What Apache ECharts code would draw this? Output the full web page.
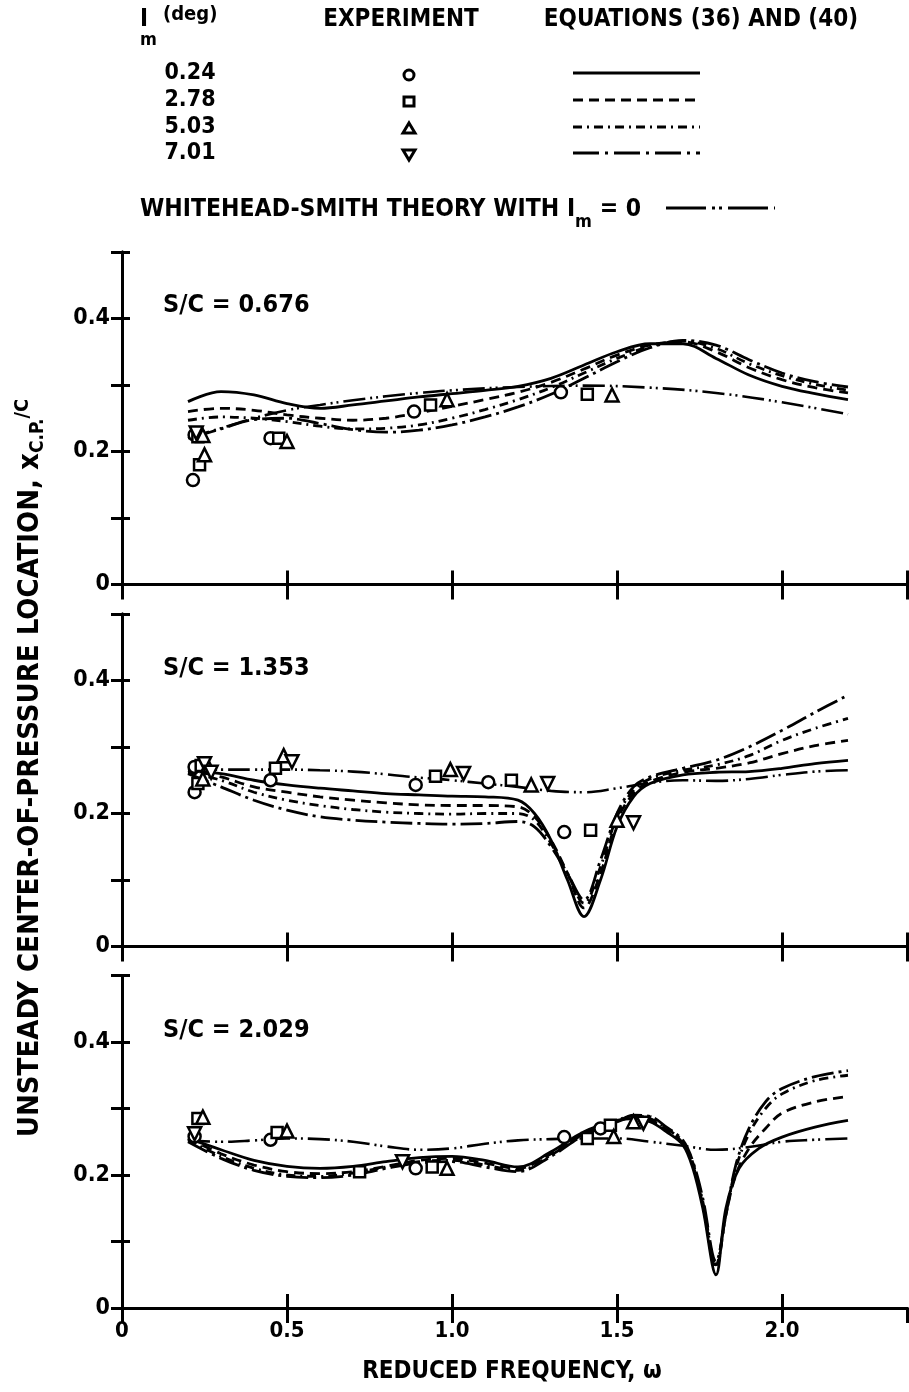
<!DOCTYPE html>
<html>
<head>
<meta charset="utf-8">
<script src="https://cdn.jsdelivr.net/npm/echarts@6/dist/echarts.min.js"></script>
<style>
  html, body { margin: 0; padding: 0; background: #fff; }
  #chart { width: 909px; height: 1392px; }
</style>
</head>
<body>
<div id="chart"></div>
<script>
// ---- data: [reduced frequency, x_cp/c] ----
// panel 1, S/C = 0.676
const p1Eq024 = [[0.2,0.275],[0.3,0.29],[0.4,0.285],[0.5,0.272],[0.6,0.265],[0.7,0.27],[0.8,0.276],[0.9,0.282],[1.0,0.287],[1.1,0.292],[1.2,0.298],[1.3,0.31],[1.4,0.33],[1.5,0.35],[1.6,0.362],[1.7,0.362],[1.8,0.34],[1.9,0.315],[2.0,0.298],[2.1,0.287],[2.2,0.278]]
const p1Eq278 = [[0.2,0.26],[0.3,0.265],[0.4,0.262],[0.5,0.255],[0.6,0.25],[0.7,0.247],[0.8,0.25],[0.9,0.258],[1.0,0.268],[1.1,0.278],[1.2,0.289],[1.3,0.304],[1.4,0.324],[1.5,0.345],[1.6,0.36],[1.7,0.365],[1.8,0.35],[1.9,0.326],[2.0,0.308],[2.1,0.296],[2.2,0.288]]
const p1Eq503 = [[0.2,0.247],[0.3,0.252],[0.4,0.25],[0.5,0.245],[0.6,0.238],[0.7,0.234],[0.8,0.235],[0.9,0.24],[1.0,0.25],[1.1,0.263],[1.2,0.278],[1.3,0.296],[1.4,0.318],[1.5,0.34],[1.6,0.358],[1.7,0.366],[1.8,0.355],[1.9,0.332],[2.0,0.314],[2.1,0.301],[2.2,0.292]]
const p1Eq701 = [[0.22,0.222],[0.3,0.234],[0.4,0.248],[0.5,0.25],[0.6,0.242],[0.7,0.233],[0.8,0.229],[0.9,0.232],[1.0,0.24],[1.1,0.252],[1.2,0.267],[1.3,0.286],[1.4,0.31],[1.5,0.335],[1.6,0.356],[1.7,0.367],[1.8,0.36],[1.9,0.338],[2.0,0.318],[2.1,0.305],[2.2,0.297]]
const p1Ws = [[0.2,0.22],[0.3,0.235],[0.4,0.25],[0.5,0.262],[0.6,0.27],[0.7,0.277],[0.8,0.283],[0.9,0.288],[1.0,0.292],[1.2,0.297],[1.4,0.299],[1.6,0.296],[1.8,0.288],[2.0,0.274],[2.2,0.256]]
const p1Circle = [[0.215,0.157],[0.22,0.225],[0.45,0.22],[0.885,0.26],[1.33,0.289]]
const p1Square = [[0.235,0.18],[0.23,0.222],[0.475,0.22],[0.935,0.27],[1.41,0.286]]
const p1Tri = [[0.25,0.195],[0.245,0.224],[0.5,0.215],[0.985,0.278],[1.485,0.285]]
const p1Inv = [[0.225,0.228]]

// panel 2, S/C = 1.353
const p2Eq024 = [[0.2,0.265],[0.3,0.26],[0.4,0.25],[0.5,0.243],[0.6,0.238],[0.7,0.234],[0.8,0.23],[0.9,0.228],[1.0,0.226],[1.1,0.225],[1.2,0.22],[1.25,0.2],[1.3,0.16],[1.35,0.1],[1.4,0.045],[1.45,0.1],[1.5,0.18],[1.55,0.225],[1.6,0.245],[1.7,0.258],[1.8,0.262],[1.9,0.263],[2.0,0.268],[2.1,0.275],[2.2,0.28]]
const p2Eq278 = [[0.2,0.265],[0.3,0.255],[0.4,0.24],[0.5,0.232],[0.6,0.225],[0.7,0.22],[0.8,0.216],[0.9,0.213],[1.0,0.212],[1.1,0.212],[1.2,0.21],[1.25,0.195],[1.3,0.16],[1.35,0.11],[1.4,0.058],[1.45,0.11],[1.5,0.19],[1.55,0.23],[1.6,0.248],[1.7,0.262],[1.8,0.268],[1.9,0.276],[2.0,0.29],[2.1,0.302],[2.2,0.31]]
const p2Eq503 = [[0.2,0.262],[0.3,0.25],[0.4,0.232],[0.5,0.22],[0.6,0.212],[0.7,0.206],[0.8,0.202],[0.9,0.2],[1.0,0.199],[1.1,0.2],[1.2,0.2],[1.25,0.19],[1.3,0.155],[1.35,0.11],[1.4,0.065],[1.45,0.12],[1.5,0.195],[1.55,0.235],[1.6,0.252],[1.7,0.265],[1.8,0.273],[1.9,0.287],[2.0,0.31],[2.1,0.328],[2.2,0.343]]
const p2Eq701 = [[0.2,0.26],[0.3,0.24],[0.4,0.22],[0.5,0.205],[0.6,0.195],[0.7,0.19],[0.8,0.187],[0.9,0.185],[1.0,0.184],[1.1,0.185],[1.2,0.188],[1.25,0.18],[1.3,0.15],[1.35,0.11],[1.4,0.07],[1.45,0.13],[1.5,0.2],[1.55,0.24],[1.6,0.255],[1.7,0.268],[1.8,0.28],[1.9,0.3],[2.0,0.325],[2.1,0.352],[2.2,0.378]]
const p2Ws = [[0.2,0.268],[0.3,0.266],[0.4,0.266],[0.5,0.266],[0.6,0.265],[0.7,0.263],[0.8,0.259],[0.9,0.254],[1.0,0.25],[1.1,0.245],[1.2,0.24],[1.3,0.234],[1.4,0.232],[1.5,0.238],[1.6,0.246],[1.7,0.25],[1.8,0.249],[1.9,0.252],[2.0,0.258],[2.1,0.263],[2.2,0.265]]
const p2Circle = [[0.22,0.27],[0.22,0.232],[0.45,0.25],[0.89,0.243],[1.11,0.247],[1.34,0.172]]
const p2Square = [[0.24,0.272],[0.23,0.245],[0.465,0.268],[0.95,0.256],[1.18,0.25],[1.42,0.175]]
const p2Tri = [[0.26,0.272],[0.245,0.252],[0.49,0.287],[0.995,0.266],[1.24,0.243],[1.5,0.19]]
const p2Inv = [[0.25,0.275],[0.27,0.262],[0.515,0.278],[1.035,0.26],[1.29,0.245],[1.55,0.186]]

// panel 3, S/C = 2.029
const p3Eq024 = [[0.2,0.255],[0.3,0.238],[0.4,0.222],[0.5,0.213],[0.6,0.21],[0.7,0.213],[0.8,0.22],[0.9,0.226],[1.0,0.228],[1.1,0.222],[1.2,0.212],[1.3,0.235],[1.4,0.265],[1.5,0.282],[1.55,0.285],[1.6,0.28],[1.65,0.265],[1.7,0.245],[1.73,0.21],[1.76,0.15],[1.8,0.05],[1.83,0.15],[1.87,0.21],[1.93,0.24],[2.0,0.257],[2.1,0.272],[2.2,0.282]]
const p3Eq278 = [[0.2,0.255],[0.3,0.232],[0.4,0.215],[0.5,0.205],[0.6,0.202],[0.7,0.205],[0.8,0.213],[0.9,0.222],[1.0,0.225],[1.1,0.218],[1.2,0.21],[1.3,0.232],[1.4,0.262],[1.5,0.28],[1.55,0.287],[1.6,0.282],[1.65,0.268],[1.7,0.248],[1.73,0.215],[1.76,0.155],[1.8,0.06],[1.83,0.14],[1.86,0.2],[1.9,0.24],[1.95,0.27],[2.0,0.293],[2.1,0.31],[2.2,0.318]]
const p3Eq503 = [[0.2,0.253],[0.3,0.228],[0.4,0.21],[0.5,0.2],[0.6,0.198],[0.7,0.203],[0.8,0.212],[0.9,0.22],[1.0,0.222],[1.1,0.215],[1.2,0.207],[1.3,0.23],[1.4,0.262],[1.5,0.282],[1.55,0.289],[1.6,0.285],[1.65,0.27],[1.7,0.25],[1.73,0.218],[1.76,0.16],[1.8,0.065],[1.83,0.14],[1.86,0.21],[1.9,0.262],[1.95,0.3],[2.0,0.322],[2.1,0.342],[2.2,0.35]]
const p3Eq701 = [[0.2,0.25],[0.3,0.225],[0.4,0.207],[0.5,0.198],[0.6,0.196],[0.7,0.2],[0.8,0.21],[0.9,0.218],[1.0,0.22],[1.1,0.212],[1.2,0.205],[1.3,0.228],[1.4,0.26],[1.5,0.28],[1.55,0.29],[1.6,0.288],[1.65,0.272],[1.7,0.252],[1.73,0.22],[1.76,0.165],[1.8,0.07],[1.83,0.14],[1.86,0.215],[1.9,0.27],[1.95,0.31],[2.0,0.33],[2.1,0.348],[2.2,0.357]]
const p3Ws = [[0.2,0.252],[0.3,0.25],[0.4,0.252],[0.5,0.255],[0.6,0.254],[0.7,0.25],[0.8,0.243],[0.9,0.238],[1.0,0.24],[1.1,0.247],[1.2,0.252],[1.3,0.254],[1.4,0.255],[1.5,0.255],[1.6,0.25],[1.7,0.244],[1.8,0.238],[1.9,0.242],[2.0,0.25],[2.1,0.253],[2.2,0.255]]
const p3Circle = [[0.22,0.258],[0.45,0.253],[0.89,0.21],[1.34,0.257],[1.45,0.27]]
const p3Square = [[0.23,0.285],[0.47,0.264],[0.72,0.205],[0.94,0.212],[1.41,0.255],[1.48,0.275]]
const p3Tri = [[0.245,0.287],[0.5,0.266],[0.985,0.21],[1.49,0.258],[1.55,0.28]]
const p3Inv = [[0.22,0.262],[0.85,0.22],[1.58,0.278]]

const panelLabels = ['S/C = 0.676', 'S/C = 1.353', 'S/C = 2.029']
const incidences = ['0.24', '2.78', '5.03', '7.01']
const xTicks = [0, 0.5, 1.0, 1.5, 2.0]
const yTicks = [0, 0.2, 0.4]

const panels = [
  { eq: [p1Eq024, p1Eq278, p1Eq503, p1Eq701], ws: p1Ws, pts: [p1Circle, p1Square, p1Tri, p1Inv] },
  { eq: [p2Eq024, p2Eq278, p2Eq503, p2Eq701], ws: p2Ws, pts: [p2Circle, p2Square, p2Tri, p2Inv] },
  { eq: [p3Eq024, p3Eq278, p3Eq503, p3Eq701], ws: p3Ws, pts: [p3Circle, p3Square, p3Tri, p3Inv] }
]

// ---- styling ----
const FAMILY = "'Liberation Sans Narrow', 'DejaVu Sans Condensed', 'Liberation Sans', sans-serif"
const dashes = ['solid', [10, 6], [9, 5, 2, 5], [22, 5, 3, 5]]
const wsDash = [22, 5, 2, 4, 2, 5]
const symbols = ['circle', 'rect', 'triangle', 'triangle']
const symRot = [0, 0, 0, 180]
const symSize = [12, 11, 13, 13]

const LEFT = 122
const XMAX = 2.38
const WIDTH = XMAX * 330
const TOPS = [252, 614, 975.5]
const HEIGHT = 332.5

const near = (v, list) => list.find(t => Math.abs(v - t) < 1e-6)

const grid = []
const xAxis = []
const yAxis = []
const series = []

TOPS.forEach((top, i) => {
  grid.push({ left: LEFT, top: top, width: WIDTH, height: HEIGHT, containLabel: false, outerBoundsMode: 'none' })
  const line = { lineStyle: { color: '#000', width: 3 } }
  xAxis.push({
    gridIndex: i, type: 'value', min: 0, max: XMAX, interval: 0.5, position: 'bottom',
    axisLine: line, splitLine: { show: false },
    axisTick: { inside: true, length: 14, lineStyle: { color: '#000', width: 3 } },
    axisLabel: {
      show: i === 2, showMaxLabel: false, margin: 12, color: '#000', fontSize: 22, fontWeight: 'bold', fontFamily: FAMILY,
      formatter: v => { const t = near(v, xTicks); return t === undefined ? '' : (t === 0 ? '0' : t.toFixed(1)) }
    }
  })
  xAxis.push({
    gridIndex: i, type: 'value', min: 0, max: XMAX, interval: 0.5, position: 'top',
    axisLine: line, splitLine: { show: false },
    axisTick: { inside: true, length: 15, lineStyle: { color: '#000', width: 3 } },
    axisLabel: { show: false }
  })
  yAxis.push({
    gridIndex: i, type: 'value', min: 0, max: 0.5, interval: 0.1, position: 'left',
    axisLine: line, splitLine: { show: false },
    axisTick: { inside: true, length: 8, lineStyle: { color: '#000', width: 3 } },
    axisLabel: {
      margin: 12, color: '#000', fontSize: 23, fontWeight: 'bold', fontFamily: FAMILY,
      formatter: v => { const t = near(v, yTicks); return t === undefined ? '' : (t === 0 ? '0' : t.toFixed(1)) }
    }
  })
  yAxis.push({
    gridIndex: i, type: 'value', min: 0, max: 0.5, interval: 0.1, position: 'right',
    axisLine: line, splitLine: { show: false },
    axisTick: { inside: true, length: 11, lineStyle: { color: '#000', width: 3 } },
    axisLabel: { show: false }
  })

  const p = panels[i]
  p.eq.forEach((d, k) => {
    series.push({
      type: 'line', data: d, xAxisIndex: 2 * i, yAxisIndex: 2 * i, smooth: 0.35, symbol: 'none',
      lineStyle: { color: '#000', width: 2.8, type: dashes[k] }, z: 3
    })
  })
  series.push({
    type: 'line', data: p.ws, xAxisIndex: 2 * i, yAxisIndex: 2 * i, smooth: 0.4, symbol: 'none',
    lineStyle: { color: '#000', width: 2.6, type: wsDash }, z: 3
  })
  p.pts.forEach((d, k) => {
    series.push({
      type: 'scatter', data: d, xAxisIndex: 2 * i, yAxisIndex: 2 * i,
      symbol: symbols[k], symbolRotate: symRot[k], symbolSize: symSize[k],
      itemStyle: { color: '#fff', borderColor: '#000', borderWidth: 2.5, opacity: 1 }, z: 5
    })
  })
})

// ---- legend block and titles (graphic) ----
const font = size => 'bold ' + size + 'px ' + FAMILY
const txt = (text, x, y, size, align) => ({
  type: 'text', x: x, y: y,
  style: { text: text, font: font(size), fill: '#000', align: align || 'left', verticalAlign: 'middle' }
})
const graphic = []
graphic.push(txt('I', 140, 20, 24))
graphic.push(txt('m', 140, 40, 18))
graphic.push(txt('(deg)', 163, 15, 20))
graphic.push(txt('EXPERIMENT', 401, 20, 24, 'center'))
graphic.push(txt('EQUATIONS (36) AND (40)', 701, 20, 24, 'center'))

const rowY = [73, 100, 127, 153]
const legendDash = [null, [10, 6], [9, 5, 2, 5], [26, 6, 3, 6]]
incidences.forEach((lab, k) => {
  const y = rowY[k]
  graphic.push(txt(lab, 190, y, 23, 'center'))
  graphic.push({
    type: 'line', shape: { x1: 573, y1: y, x2: 700, y2: y },
    style: { stroke: '#000', lineWidth: 3, lineDash: legendDash[k] }
  })
  const sym = { fill: '#fff', stroke: '#000', lineWidth: 3 }
  if (k === 0) graphic.push({ type: 'circle', shape: { cx: 409, cy: y + 2, r: 5 }, style: sym })
  if (k === 1) graphic.push({ type: 'rect', shape: { x: 404, y: y - 3, width: 10, height: 9 }, style: sym })
  if (k === 2) graphic.push({ type: 'polygon', shape: { points: [[409, y - 4], [415, y + 6], [403, y + 6]] }, style: sym })
  if (k === 3) graphic.push({ type: 'polygon', shape: { points: [[403, y - 3], [415, y - 3], [409, y + 7]] }, style: sym })
})
graphic.push({
  type: 'text', x: 140, y: 210,
  style: {
    text: 'WHITEHEAD-SMITH THEORY WITH I{m|m} = 0',
    font: font(24.5), fill: '#000', align: 'left', verticalAlign: 'middle',
    rich: { m: { font: font(18), fill: '#000', padding: [24, 0, 0, 0] } }
  }
})
graphic.push({
  type: 'line', shape: { x1: 666, y1: 208, x2: 775, y2: 208 },
  style: { stroke: '#000', lineWidth: 3, lineDash: [40, 6, 3, 4, 3, 6] }
})

const labY = [305, 668, 1030]
panelLabels.forEach((lab, i) => graphic.push(txt(lab, 163, labY[i], 25)))

graphic.push(txt('REDUCED FREQUENCY, \u03c9', 512, 1372, 24, 'center'))
graphic.push({
  type: 'text', x: 30, y: 768, rotation: Math.PI / 2,
  style: {
    text: 'UNSTEADY CENTER-OF-PRESSURE LOCATION, x{s|C.P.}{n|/C}',
    font: font(29), fill: '#000', align: 'center', verticalAlign: 'middle',
    rich: {
      s: { font: font(19), fill: '#000', verticalAlign: 'bottom', padding: [16, 0, 0, 0] },
      n: { font: font(20), fill: '#000', verticalAlign: 'top', padding: [0, 0, 10, 0] }
    }
  }
})

const chart = echarts.init(document.getElementById('chart'))
chart.setOption({
  animation: false,
  backgroundColor: '#fff',
  grid: grid,
  xAxis: xAxis,
  yAxis: yAxis,
  series: series,
  graphic: graphic
})
</script>
</body>
</html>
